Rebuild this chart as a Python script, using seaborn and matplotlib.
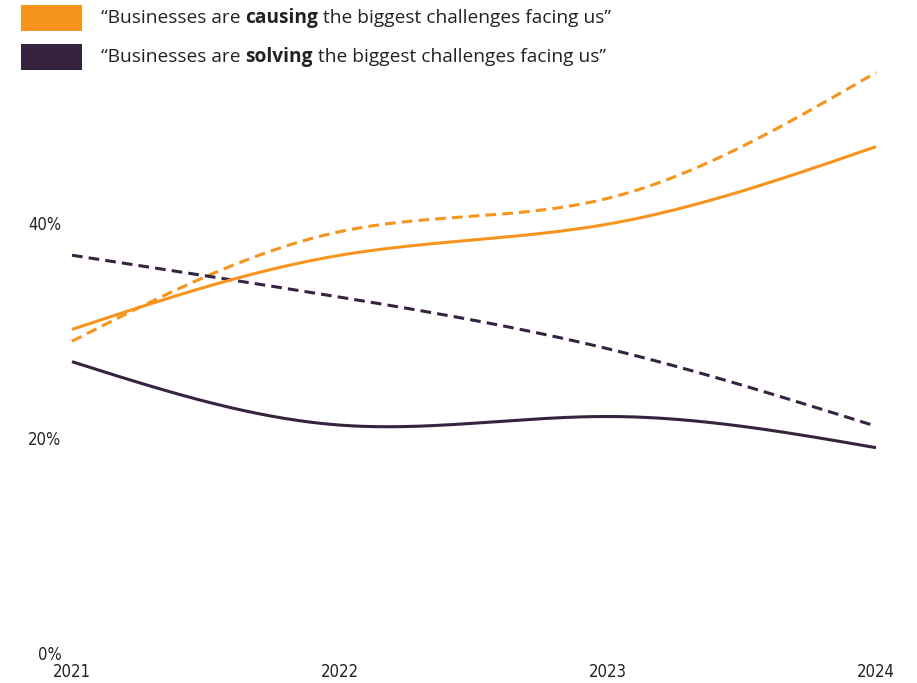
import numpy as np
import pandas as pd
import matplotlib
matplotlib.use("Agg")
import matplotlib.pyplot as plt
import seaborn as sns
from matplotlib.patches import Rectangle
from matplotlib import font_manager

# Survey years and shares (%) for each statement
years = [2021, 2022, 2023, 2024]
causing_solid = [30.1, 37.0, 39.9, 47.1]
causing_dashed = [29.0, 39.2, 42.3, 54.0]
solving_solid = [27.1, 21.2, 22.0, 19.1]
solving_dashed = [37.0, 33.1, 28.3, 21.1]
y_ticks = [0, 20, 40]
y_tick_labels = ["0%", "20%", "40%"]

ORANGE = "#F7941D"
PURPLE = "#36233F"

sns.set_theme(style="white")
plt.rcParams["font.family"] = ["DejaVu Sans"]


def natural_spline(x, y, n=300):
    """Natural cubic spline through the given points, for a smooth line."""
    x = np.asarray(x, float)
    y = np.asarray(y, float)
    k = len(x)
    h = np.diff(x)
    A = np.zeros((k - 2, k - 2))
    b = np.zeros(k - 2)
    for i in range(1, k - 1):
        A[i - 1, i - 1] = 2 * (h[i - 1] + h[i])
        if i - 2 >= 0:
            A[i - 1, i - 2] = h[i - 1]
        if i < k - 2:
            A[i - 1, i] = h[i]
        b[i - 1] = 6 * ((y[i + 1] - y[i]) / h[i] - (y[i] - y[i - 1]) / h[i - 1])
    M = np.zeros(k)
    M[1:-1] = np.linalg.solve(A, b)
    xs = np.linspace(x[0], x[-1], n)
    idx = np.clip(np.searchsorted(x, xs, side="right") - 1, 0, k - 2)
    x0, x1 = x[idx], x[idx + 1]
    hh = x1 - x0
    a = (x1 - xs) / hh
    c = (xs - x0) / hh
    ys = (a * y[idx] + c * y[idx + 1]
          + ((a ** 3 - a) * M[idx] + (c ** 3 - c) * M[idx + 1]) * hh ** 2 / 6)
    return xs, ys


fig = plt.figure(figsize=(9.17, 6.83), dpi=100)
W, H = 917, 683
ax = fig.add_axes([72 / W, 30 / H, (876 - 72) / W, 645 / H])

series = [
    (causing_dashed, ORANGE, True),
    (solving_dashed, PURPLE, True),
    (causing_solid, ORANGE, False),
    (solving_solid, PURPLE, False),
]
for vals, color, dashed in series:
    xs, ys = natural_spline(years, vals)
    df = pd.DataFrame({"year": xs, "share": ys})
    sns.lineplot(data=df, x="year", y="share", ax=ax, color=color,
                 linewidth=2.2, estimator=None, sort=False)
    ln = ax.lines[-1]
    ln.set_clip_on(False)
    if dashed:
        ln.set_dashes((3.5, 2.0))
    ln.set_solid_capstyle("butt")
    ln.set_dash_capstyle("butt")

ax.set_xlim(2021, 2024)
ax.set_ylim(0, 60)
ax.set_xlabel("")
ax.set_ylabel("")
for s in ax.spines.values():
    s.set_visible(False)
ax.grid(False)

ax.set_yticks(y_ticks)
ax.set_yticklabels(y_tick_labels)
ax.set_xticks(years)
ax.set_xticklabels([str(y) for y in years])
ax.tick_params(axis="y", length=0, pad=7.5, labelsize=12, labelcolor="#222222")
ax.tick_params(axis="x", length=0, pad=7, labelsize=12, labelcolor="#222222")
for lab in ax.get_xticklabels() + ax.get_yticklabels():
    lab.set_fontstretch("condensed")

# Legend: colour swatches with partly bold captions
regular = font_manager.FontProperties(family="Open Sans", weight="normal", size=13.8)
bold = font_manager.FontProperties(family="Open Sans", weight="bold", size=13.8)
legend_rows = [
    (ORANGE, "causing", 18),
    (PURPLE, "solving", 57),
]
renderer = fig.canvas.get_renderer()
for color, verb, yc in legend_rows:
    fig.patches.append(Rectangle((21 / W, 1 - (yc + 12.5) / H), 61 / W, 25 / H,
                                 transform=fig.transFigure, facecolor=color,
                                 edgecolor="none"))
    x = 101
    for piece, fp in [("\u201cBusinesses are\u00a0", regular), (verb, bold),
                      ("\u00a0the biggest challenges facing us\u201d", regular)]:
        t = fig.text(x / W, 1 - yc / H, piece, fontproperties=fp,
                     color="#222222", va="center", ha="left")
        bb = t.get_window_extent(renderer)
        x += bb.width

fig.savefig("out.png", dpi=100)
